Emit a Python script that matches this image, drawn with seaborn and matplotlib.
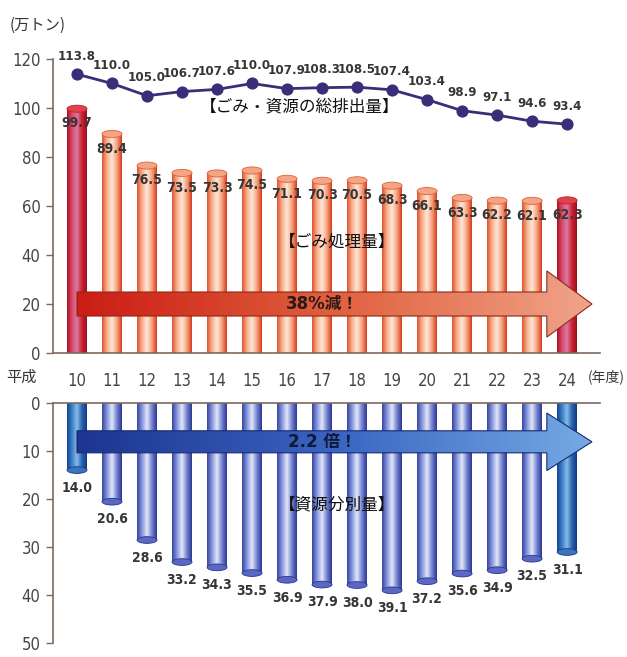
import numpy as np
import matplotlib
matplotlib.use("Agg")
import matplotlib.pyplot as plt
from matplotlib.colors import LinearSegmentedColormap
from matplotlib.patches import Ellipse, FancyArrow
import seaborn as sns

# --- data ---
years = ['10', '11', '12', '13', '14', '15', '16', '17', '18', '19', '20', '21', '22', '23', '24']
total = [113.8, 110.0, 105.0, 106.7, 107.6, 110.0, 107.9, 108.3, 108.5, 107.4, 103.4, 98.9, 97.1, 94.6, 93.4]
disposal = [99.7, 89.4, 76.5, 73.5, 73.3, 74.5, 71.1, 70.3, 70.5, 68.3, 66.1, 63.3, 62.2, 62.1, 62.3]
resource = [14.0, 20.6, 28.6, 33.2, 34.3, 35.5, 36.9, 37.9, 38.0, 39.1, 37.2, 35.6, 34.9, 32.5, 31.1]

sns.set_theme(style="white")
plt.rcParams['font.family'] = ['Noto Sans CJK JP', 'DejaVu Sans']
NUM_FONT = ['DejaVu Sans']
AXIS_COLOR = '#7a6a5e'
TEXT_COLOR = '#3a3535'

# gradients (left -> right across the bar)
SALMON = ['#e0502e', '#f7b08a', '#fde7d8', '#f6a27c', '#d6381c']
RED = ['#a80e24', '#dc4a66', '#d87aa8', '#cf2030', '#9c0e1e']
BLUE = ['#34449e', '#8595de', '#e4e9f8', '#7282d0', '#2a3590']
DBLUE = ['#14428e', '#3a80c8', '#86bce8', '#2a62b0', '#123a7e']


def gradient_fill(ax, patch, colors, z):
    cmap = LinearSegmentedColormap.from_list('g', colors)
    bb = patch.get_path().get_extents(patch.get_patch_transform())
    grad = np.linspace(0, 1, 256).reshape(1, -1)
    im = ax.imshow(grad, cmap=cmap, extent=[bb.x0, bb.x1, bb.y0, bb.y1],
                   aspect='auto', origin='lower', zorder=z, interpolation='bicubic')
    im.set_clip_path(patch)


def num_text(ax, *args, **kw):
    kw.setdefault('fontsize', 10)
    return ax.text(*args, fontweight='bold', color=TEXT_COLOR, family=NUM_FONT,
                   fontstretch='condensed', **kw)


fig = plt.figure(figsize=(6.27, 6.57), dpi=100)
ax1 = fig.add_axes([0.0845, 0.4627, 0.8725, 0.4475])
ax2 = fig.add_axes([0.0845, 0.022, 0.8725, 0.3646])
x = np.arange(len(years))
bw = 0.57

# --- top: disposal bars + total line ---
sns.barplot(x=years, y=disposal, ax=ax1, color='#f6a27c', width=bw, saturation=1, linewidth=0, zorder=2)
for i, p in enumerate(ax1.patches):
    edge = i in (0, len(years) - 1)
    gradient_fill(ax1, p, RED if edge else SALMON, 2.1)
    ax1.add_patch(Ellipse((x[i], disposal[i]), bw, 2.9, facecolor='#e2404e' if edge else '#f4a684',
                          edgecolor='#b82a20' if edge else '#e0603a', lw=0.6, zorder=2.2))
    num_text(ax1, x[i], disposal[i] - 6, f'{disposal[i]:.1f}', ha='center', va='center', zorder=3)

sns.lineplot(x=x, y=total, ax=ax1, color='#3b2d78', lw=2, marker='o', markersize=8,
             markeredgecolor='#3b2d78', zorder=4, clip_on=False)
for i, v in enumerate(total):
    ax1.annotate(f'{v:.1f}', (x[i], v), xytext=(0, 13), textcoords='offset points',
                 ha='center', va='center', fontsize=9.5, fontweight='bold', fontstretch='condensed',
                 color=TEXT_COLOR, family=NUM_FONT)

arrow1 = FancyArrow(0, 20, 14.71, 0, width=9.8, head_width=27, head_length=1.29,
                    length_includes_head=True, facecolor='none', edgecolor='#8a2a1a', lw=0.8, zorder=5)
ax1.add_patch(arrow1)
gradient_fill(ax1, arrow1, ['#cc1c14', '#e0603e', '#f0a48a'], 4.9)
ax1.text(7, 20, '38%減！', ha='center', va='center', fontsize=12, fontweight='bold',
         color='#2a1a18', family=['DejaVu Sans', 'Noto Sans CJK JP'], zorder=6)

ax1.text(6.37, 100.4, '【ごみ・資源の総排出量】', ha='center', va='center', fontsize=12, color='#111111')
ax1.text(7.43, 45.3, '【ごみ処理量】', ha='center', va='center', fontsize=12, color='#111111')

ax1.set_xlim(-0.686, 14.94)
ax1.set_ylim(0, 120)
ax1.set_yticks([0, 20, 40, 60, 80, 100, 120])
ax1.set_xticks(x)
ax1.set_xticklabels(years)
ax1.set_xlabel('')
ax1.set_ylabel('')
ax1.tick_params(axis='x', length=0, pad=14, labelsize=12, labelcolor='#4a4545')
ax1.tick_params(axis='y', length=5, width=1, color=AXIS_COLOR, direction='out', pad=4,
                labelsize=12, labelcolor='#4a4545', left=True)

# --- bottom: resource bars (hanging down) ---
sns.barplot(x=years, y=resource, ax=ax2, color='#7282d0', width=bw, saturation=1, linewidth=0, zorder=2)
for i, p in enumerate(ax2.patches):
    edge = i in (0, len(years) - 1)
    gradient_fill(ax2, p, DBLUE if edge else BLUE, 2.1)
    ax2.add_patch(Ellipse((x[i], resource[i]), bw, 1.4, facecolor='#3a74c0' if edge else '#5a68c4',
                          edgecolor='#1a3a80' if edge else '#2a3590', lw=0.6, zorder=2.2))
    num_text(ax2, x[i], resource[i] + 3.7, f'{resource[i]:.1f}', ha='center', va='center', zorder=3)

arrow2 = FancyArrow(0, 8.1, 14.71, 0, width=4.6, head_width=12, head_length=1.29,
                    length_includes_head=True, facecolor='none', edgecolor='#1a2a70', lw=0.8, zorder=5)
ax2.add_patch(arrow2)
gradient_fill(ax2, arrow2, ['#1c3590', '#3a64c0', '#74aae4'], 4.9)
ax2.text(7, 8.1, '2.2 倍！', ha='center', va='center', fontsize=12, fontweight='bold',
         color='#101838', family=['DejaVu Sans', 'Noto Sans CJK JP'], zorder=6)
ax2.text(7.43, 21.3, '【資源分別量】', ha='center', va='center', fontsize=12, color='#111111')

ax2.set_xlim(-0.686, 14.94)
ax2.set_ylim(50, 0)
ax2.set_yticks([0, 10, 20, 30, 40, 50])
ax2.set_xticks([])
ax2.set_xlabel('')
ax2.set_ylabel('')
ax2.tick_params(axis='y', length=5, width=1, color=AXIS_COLOR, direction='out', pad=4,
                labelsize=12, labelcolor='#4a4545', left=True)

for ax in (ax1, ax2):
    ax.set_facecolor('none')
    for lbl in ax.get_yticklabels() + ax.get_xticklabels():
        lbl.set_family(NUM_FONT)
        lbl.set_fontstretch('condensed')
    for s in ax.spines.values():
        s.set_color(AXIS_COLOR)
        s.set_linewidth(1.2)
ax1.spines['top'].set_visible(False)
ax1.spines['right'].set_visible(False)
ax2.spines['bottom'].set_visible(False)
ax2.spines['right'].set_visible(False)

fig.text(0.015, 0.962, '(万トン)', fontsize=11, color='#3a3535', va='center')
fig.text(0.035, 0.426, '平成', fontsize=11, color='#3a3535', va='center', ha='center')
fig.text(0.937, 0.426, '(年度)', fontsize=10, color='#3a3535', va='center', ha='left')

fig.savefig('out.png', dpi=100, facecolor='white')
